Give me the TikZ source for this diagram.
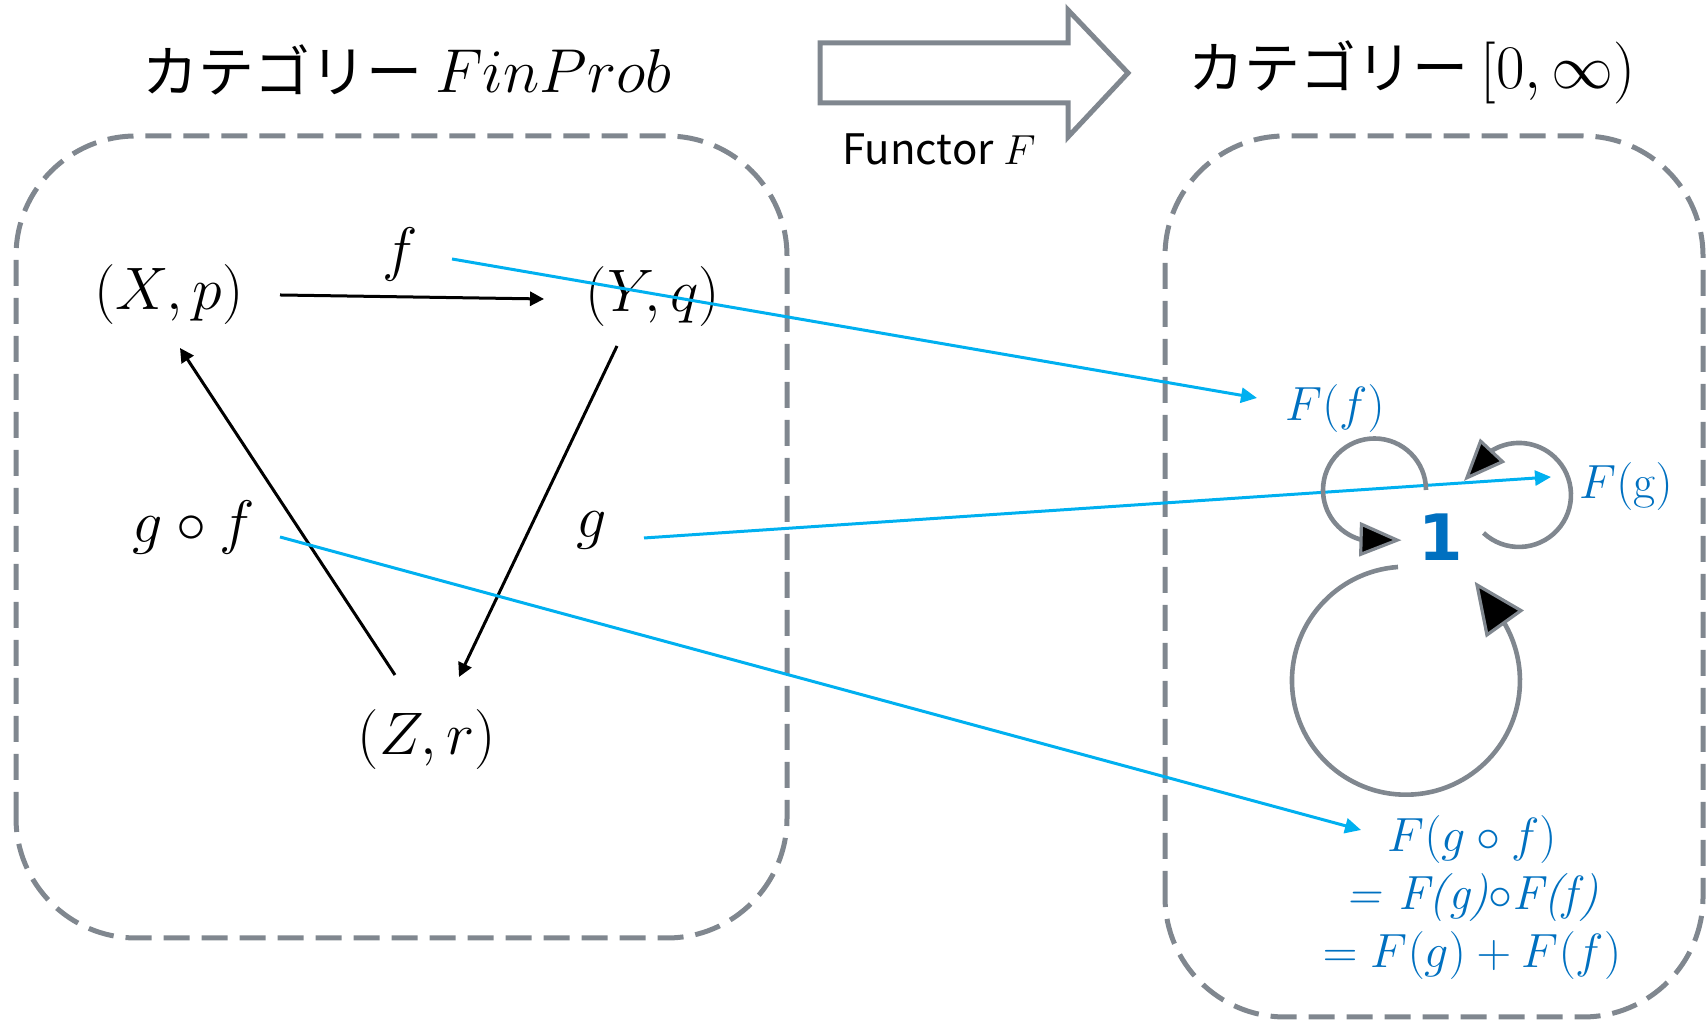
\RequirePackage{fix-cm}
\documentclass[tikz,border=0pt]{standalone}
\usepackage{fontspec}
\usepackage{amsmath}
\newfontfamily\jafont{Noto Sans CJK JP}
\newfontfamily\onefont{DejaVu Sans}
\usetikzlibrary{arrows.meta}
\definecolor{boxgray}{RGB}{128,135,143}
\definecolor{mapblue}{RGB}{0,176,240}
\definecolor{textblue}{RGB}{0,112,192}
\begin{document}
\begin{tikzpicture}[x=0.5pt,y=0.5pt,
  catbox/.style={draw=boxgray,line width=2.5pt,dash pattern=on 13pt off 6pt,rounded corners=60pt},
  title/.style={font=\jafont\fontsize{28}{33}\selectfont},
  obj/.style={font=\fontsize{30}{36}\selectfont},
  mor/.style={line width=1.5pt,-{Triangle[length=7pt,width=7pt]}},
  fmap/.style={mapblue,line width=1.5pt,-{Triangle[length=8pt,width=7.5pt]}},
  fmor/.style={text=textblue,font=\fontsize{24}{29}\selectfont},
  selfloop/.style={draw=boxgray,line width=2.3pt,-{Triangle[length=21pt,width=17pt,fill=black,line width=1.6pt]}}]
\useasboundingbox (0,0) rectangle (1707,1020);
\draw[catbox] (16,82) rectangle (787,884);
\draw[catbox] (1165,3) rectangle (1703,884);
\draw[boxgray,line width=2.5pt] (820,977) -- (1068,977) -- (1068,1010) -- (1128,947) -- (1068,883) -- (1068,917) -- (820,917) -- cycle;
\node[title] (lefttitle) at (407,950) {カテゴリー \fontsize{31}{36}\selectfont$FinProb$};
\node[title] (righttitle) at (1412,948) {カテゴリー \fontsize{31}{36}\selectfont$[0,\infty)$};
\node[font=\jafont\fontsize{21}{25}\selectfont] (functor) at (939,871) {Functor $F$};
\node[obj] (xp) at (169,725) {$(X,p)$};
\node[obj] (yq) at (653,723) {$(Y,q)$};
\node[obj] (zr) at (427,280) {$(Z,r)$};
\node[obj] (f) at (400,765) {$f$};
\node[obj] (g) at (592,490) {$g$};
\node[obj] (gf) at (194,492) {$g\circ f$};
\draw[mor] ([shift={(111,0)}]xp.center) -- ([shift={(-109,-2)}]yq.center);
\draw[mor] ([shift={(-36,-49)}]yq.center) -- ([shift={(32,63)}]zr.center);
\draw[mor] ([shift={(-32,65)}]zr.center) -- ([shift={(11,-53)}]xp.center);
\node[fmor] (ff) at (1335,611) {$F(f)$};
\node[fmor] (fg) at (1626,533) {$F(\mathrm{g})$};
\node[fmor,align=center] (fgf) at (1472,122) {$F(g\circ f)$\\ \textit{= F(g)}$\circ$\textit{F(f)}\\ $=F(g)+F(f)$};
\node[text=textblue,font=\onefont\bfseries\fontsize{32}{38}\selectfont] (one) at (1441,483) {1};
\draw[fmap] ([shift={(52,-4)}]f.center) -- ([shift={(-78,11)}]ff.center);
\draw[fmap] ([shift={(52,-8)}]g.center) -- ([shift={(-75,10)}]fg.center);
\draw[fmap] ([shift={(86,-9)}]gf.center) -- ([shift={(-111,68)}]fgf.center);
\draw[selfloop] ([shift={(-15,47)}]one.center) arc[start angle=0,end angle=253,radius=51.5] -- ++(42,-1);
\draw[selfloop] ([shift={(42.5,4)}]one.center) arc[start angle=227,end angle=480,radius=52] -- ++(-29,-31);
\draw[selfloop,-{Triangle[length=26pt,width=23pt,fill=black,line width=1.6pt]}] ([shift={(-43,-30)}]one.center) arc[start angle=94,end angle=390,radius=114] -- ++(-30,42);
\end{tikzpicture}
\end{document}
